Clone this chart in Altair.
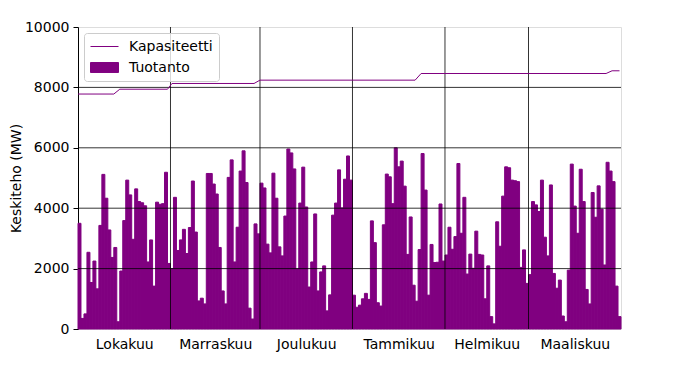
import altair as alt
import pandas as pd

# ---- data ----
months = ["Lokakuu", "Marraskuu", "Joulukuu", "Tammikuu", "Helmikuu", "Maaliskuu"]
month_days = [31, 30, 31, 31, 28, 31]

oct_vals = [3500, 350, 500, 2540, 1540, 2250, 1330, 3430, 5120, 4330,
            3280, 2370, 2700, 240, 1920, 3590, 4930, 4440, 2970, 4640,
            4220, 4180, 4080, 2220, 2950, 1420, 4200, 4130, 4150, 5190, 2170]
nov_vals = [2000, 4360, 2600, 2950, 3300, 2500, 3360, 4900, 3210, 930,
            1020, 830, 5150, 5150, 4800, 4470, 2700, 1260, 830, 5020,
            5600, 2220, 3370, 5230, 5900, 4850, 690, 330, 3480, 3150]
dec_vals = [4830, 4670, 2810, 2520, 5160, 4330, 2720, 2420, 3740, 5960,
            5830, 5300, 1990, 4170, 5360, 4040, 1390, 2220, 3810, 1260,
            1890, 2090, 600, 1130, 3770, 4170, 5270, 4010, 4960, 5730, 4930]
jan_vals = [1120, 720, 790, 1000, 1180, 980, 3580, 2860, 870, 760,
            3450, 5130, 5040, 4150, 6000, 5370, 5560, 4730, 2470, 3710,
            1450, 920, 2630, 5810, 4600, 1120, 2800, 2200, 2210, 4140, 2250]
feb_vals = [2450, 3370, 2640, 3060, 5480, 3170, 4360, 1820, 2480, 2010,
            3240, 2470, 2450, 1000, 2090, 410, 170, 3550, 2740, 4400,
            5370, 5340, 4930, 4910, 4880, 2040, 2620, 1510]
mar_vals = [1800, 4220, 4110, 3890, 4930, 3040, 2420, 4770, 1840, 1350,
            1620, 430, 240, 1950, 5460, 4070, 3170, 5290, 4220, 1310,
            830, 4520, 3700, 4740, 3970, 2120, 5520, 5230, 4880, 1420, 410]

# capacity step line: corner points (day index, MW)
cap_days = [0, 12, 14, 30, 31.5, 59, 61, 113, 115, 177, 179, 181.5]
cap_vals = [7780, 7780, 7940, 7940, 8130, 8130, 8240, 8240, 8460, 8460, 8550, 8550]

y_ticks = [0, 2000, 4000, 6000, 8000, 10000]

PURPLE = "#800080"
FONT = "DejaVu Sans"

# ---- tables ----
production = oct_vals + nov_vals + dec_vals + jan_vals + feb_vals + mar_vals
n_days = len(production)
prod_df = pd.DataFrame({"day": list(range(n_days)), "value": production})
prod_df["day_end"] = prod_df["day"] + 1
prod_df["series"] = "Tuotanto"

cap_df = pd.DataFrame({"day": cap_days, "value": cap_vals})
cap_df["series"] = "Kapasiteetti"

starts = [0]
for d in month_days:
    starts.append(starts[-1] + d)
mids = [starts[i] + month_days[i] / 2 for i in range(len(months))]
label_map = "{" + ",".join("'%g':'%s'" % (m, name) for m, name in zip(mids, months)) + "}"

vgrid_df = pd.DataFrame({"day": starts[1:-1]})
hgrid_df = pd.DataFrame({"value": y_ticks[1:-1]})

x_scale = alt.Scale(domain=[0, n_days], nice=False, zero=False, padding=0)
y_scale = alt.Scale(domain=[0, 10000], nice=False, padding=0)
color_scale = alt.Scale(domain=["Kapasiteetti", "Tuotanto"], range=[PURPLE, PURPLE])

legend = alt.Legend(
    title=None, orient="none", legendX=6, legendY=6,
    symbolType={"expr": "datum.value == 'Kapasiteetti' ? 'M-1,0L3,0' : 'M-1,-0.71L3,-0.71L3,0.71L-1,0.71Z'"},
    symbolSize=196, symbolStrokeWidth=1, symbolStrokeColor=PURPLE, symbolFillColor=PURPLE,
    labelFont=FONT, labelFontSize=14, labelColor="black", labelOffset=24,
    padding=6, rowPadding=6, strokeColor="#cccccc", fillColor="rgba(255,255,255,0.8)",
    cornerRadius=3,
)

x_axis = alt.Axis(
    title=None, values=mids, labelExpr=f"{label_map}[datum.value]",
    ticks=False, grid=False, domain=False, labelFont=FONT, labelFontSize=14,
    labelColor="black", labelPadding=8, labelFlush=False, labelOverlap=False,
)
y_axis = alt.Axis(
    title="Keskiteho (MW)", values=y_ticks, format="d", grid=False,
    tickSize=5, tickColor="black", domainColor="black", labelPadding=4,
    labelFont=FONT, labelFontSize=14, labelColor="black", labelFlush=False,
    labelOverlap=False,
    titleFont=FONT, titleFontSize=14, titleFontWeight="normal", titleColor="black",
    titlePadding=1,
)

bars = alt.Chart(prod_df).mark_bar(stroke=PURPLE, strokeWidth=1).encode(
    x=alt.X("day:Q", scale=x_scale, axis=x_axis),
    x2="day_end:Q",
    y=alt.Y("value:Q", scale=y_scale, axis=y_axis),
    y2=alt.datum(0),
    color=alt.Color("series:N", scale=color_scale, legend=legend),
)

hgrid = alt.Chart(hgrid_df).mark_rule(color="black", strokeWidth=0.8).encode(
    y=alt.Y("value:Q", scale=y_scale)
)
vgrid = alt.Chart(vgrid_df).mark_rule(color="black", strokeWidth=0.8).encode(
    x=alt.X("day:Q", scale=x_scale)
)

cap_line = alt.Chart(cap_df).mark_line(strokeWidth=1).encode(
    x=alt.X("day:Q", scale=x_scale),
    y=alt.Y("value:Q", scale=y_scale),
    color=alt.Color("series:N", scale=color_scale, legend=legend),
)

chart = alt.layer(bars, hgrid, vgrid, cap_line).properties(
    width=543, height=302,
    autosize=alt.AutoSizeParams(type="none"),
    padding={"left": 70, "top": 19, "right": 40, "bottom": 30},
).configure_view(stroke="black", strokeWidth=1).configure(background="white")

chart.save("out.html", embed_options={"renderer": "svg", "actions": False})
